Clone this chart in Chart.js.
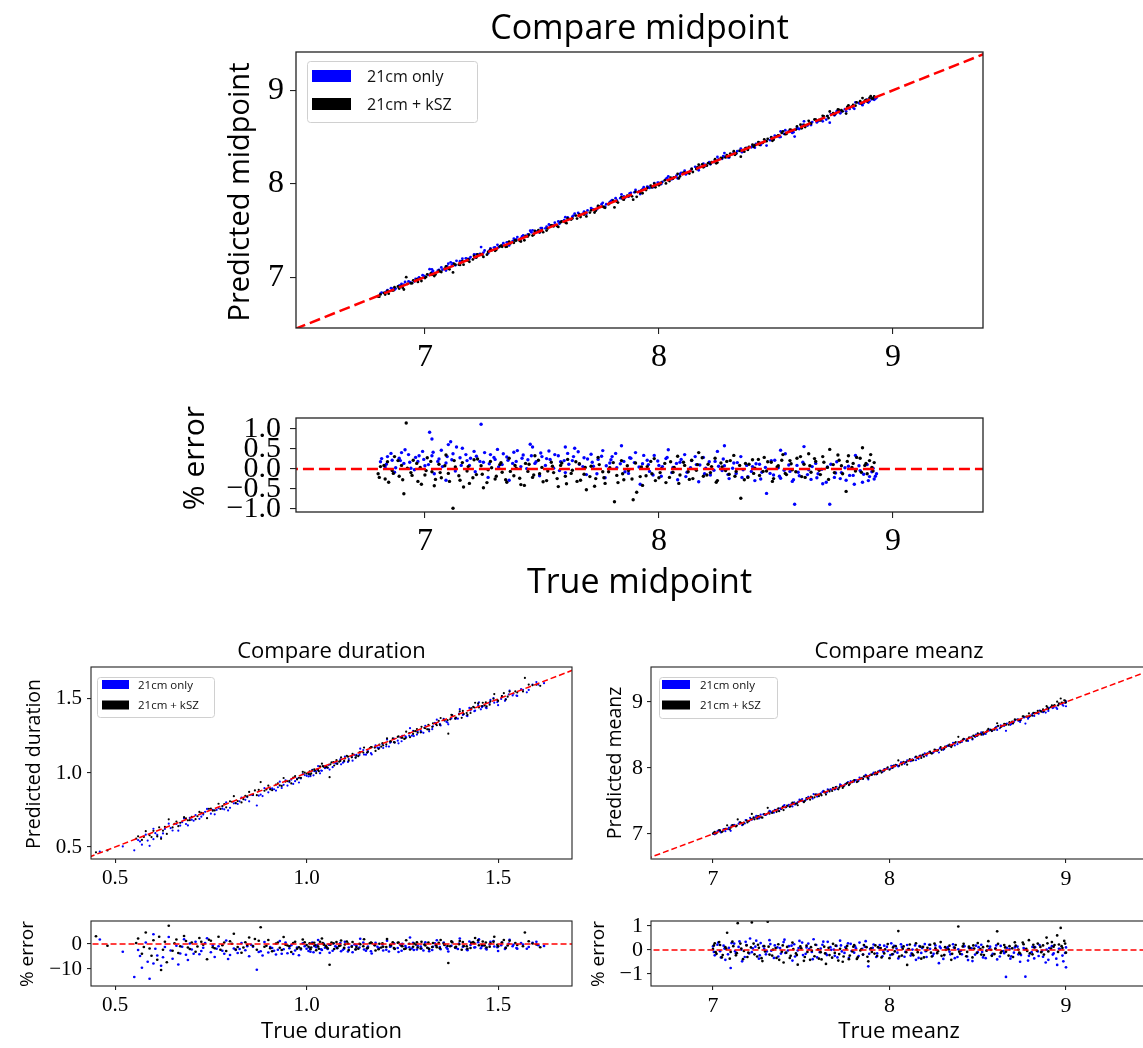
<!DOCTYPE html>
<html>
<head>
<meta charset="utf-8">
<script src="https://cdn.jsdelivr.net/npm/chart.js@4/dist/chart.umd.min.js"></script>
<style>
html, body { margin: 0; padding: 0; background: #fff; overflow: hidden; width: 1143px; height: 1048px; }
canvas { position: absolute; left: 0; top: 0; }
</style>
</head>
<body>
<script>
// Each sample is [true value, % error]; predicted = true * (1 + error / 100).
const midpoint21cm = [[6.81,0.18],[6.83,0.05],[6.84,0.31],[6.86,0.22],[6.87,-0.08],[6.89,0.27],[6.90,0.41],[6.91,0.14],[6.93,0.36],[6.94,0.02],[6.96,0.29],[6.97,0.19],[6.99,0.44],[7.00,0.08],[7.02,0.92],[7.03,0.33],[7.04,-0.12],[7.06,0.25],[7.07,0.47],[7.09,0.15],[7.10,0.61],[7.12,0.38],[7.13,-0.05],[7.15,0.28],[7.16,0.52],[7.18,0.21],[7.19,0.09],[7.21,0.44],[7.22,0.32],[7.24,1.12],[7.25,0.17],[7.27,-0.21],[7.28,0.36],[7.30,0.24],[7.31,0.49],[7.33,0.11],[7.35,0.30],[7.36,-0.28],[7.38,0.42],[7.39,0.19],[7.41,0.06],[7.42,0.35],[7.44,0.23],[7.46,0.55],[7.47,0.14],[7.49,-0.17],[7.50,0.31],[7.52,0.26],[7.53,0.45],[7.55,0.02],[7.57,0.33],[7.58,0.18],[7.60,-0.09],[7.61,0.39],[7.63,0.21],[7.64,0.52],[7.66,0.12],[7.68,0.28],[7.69,-0.14],[7.71,0.37],[7.72,0.07],[7.74,0.24],[7.76,0.46],[7.77,-0.22],[7.79,0.15],[7.80,0.31],[7.82,0.03],[7.84,0.58],[7.85,0.19],[7.87,-0.11],[7.88,0.27],[7.90,0.41],[7.92,-0.38],[7.93,0.13],[7.95,0.22],[7.96,-0.06],[7.98,0.34],[8.00,0.09],[8.01,-0.18],[8.03,0.26],[8.04,0.48],[8.06,0.04],[8.08,-0.27],[8.09,0.17],[8.11,0.36],[8.12,-0.08],[8.14,0.21],[8.16,0.11],[8.17,-0.32],[8.19,0.29],[8.20,0.02],[8.22,-0.15],[8.24,0.19],[8.25,0.44],[8.27,-0.04],[8.28,0.08],[8.30,-0.24],[8.32,0.15],[8.33,-0.11],[8.35,0.31],[8.36,-0.02],[8.38,-0.19],[8.40,0.06],[8.41,-0.29],[8.43,0.12],[8.44,-0.08],[8.46,-0.61],[8.48,0.21],[8.49,-0.15],[8.51,0.03],[8.52,-0.23],[8.54,0.38],[8.56,-0.06],[8.57,-0.31],[8.59,0.09],[8.60,-0.17],[8.62,0.56],[8.64,-0.02],[8.65,-0.26],[8.67,0.14],[8.68,-0.12],[8.70,-0.37],[8.72,0.05],[8.73,-0.88],[8.75,-0.21],[8.76,0.18],[8.78,-0.09],[8.80,-0.28],[8.81,0.07],[8.83,-0.16],[8.84,0.34],[8.86,-0.04],[8.87,-0.33],[8.89,0.11],[8.90,-0.19],[8.91,-0.07],[8.92,-0.25],[8.93,-0.12],
[6.815,0.26],[6.835,0.12],[6.855,0.39],[6.875,0.03],[6.895,0.21],[6.915,0.48],[6.935,0.17],[6.955,-0.02],[6.975,0.33],[6.995,0.24],[7.015,0.11],[7.035,0.42],[7.055,0.19],[7.075,0.06],[7.095,0.31],[7.115,0.23],[7.135,0.55],[7.155,0.09],[7.175,0.36],[7.195,0.27],[7.215,-0.07],[7.235,0.19],[7.255,0.41],[7.275,0.13],[7.295,0.29],[7.315,0.05],[7.335,0.38],[7.355,0.22],[7.375,0.14],[7.395,0.46],[7.415,0.27],[7.435,0.01],[7.455,0.33],[7.475,0.18],[7.495,0.40],[7.515,0.09],[7.535,0.24],[7.555,0.36],[7.575,-0.04],[7.595,0.21],[7.615,0.12],[7.635,0.31],[7.655,0.43],[7.675,0.06],[7.695,0.25],[7.715,0.17],[7.735,-0.12],[7.755,0.32],[7.775,0.08],[7.795,0.23],[7.815,0.39],[7.835,0.13],[7.855,-0.07],[7.875,0.28],[7.895,0.16],[7.915,0.05],[7.935,0.34],[7.955,0.11],[7.975,-0.15],[7.995,0.20],[8.015,0.06],[8.035,0.29],[8.055,-0.09],[8.075,0.14],[8.095,0.24],[8.115,-0.19],[8.135,0.03],[8.155,0.31],[8.175,0.10],[8.195,-0.12],[8.215,0.18],[8.235,-0.03],[8.255,0.07],[8.275,0.25],[8.295,-0.14],[8.315,0.02],[8.335,0.16],[8.355,-0.21],[8.375,0.09],[8.395,-0.06],[8.415,0.13],[8.435,-0.25],[8.455,0.04],[8.475,-0.11],[8.495,0.22],[8.515,-0.18],[8.535,-0.03],[8.555,0.10],[8.575,-0.27],[8.595,-0.08],[8.615,0.17],[8.635,-0.14],[8.655,0.06],[8.675,-0.22],[8.695,-0.01],[8.715,-0.33],[8.735,0.12],[8.755,-0.10],[8.775,-0.24],[8.795,0.03],[8.815,-0.16],[8.835,-0.38],[8.855,0.08],[8.875,-0.13],[8.895,-0.29],[8.915,0.02],[8.925,-0.18],[7.03,0.75],[7.11,0.68],[7.45,0.62],[7.60,0.55],[8.28,0.58],[8.52,0.47],[7.09,-0.28],[8.58,-0.88]];

const midpoint21cmKsz = [[6.80,-0.12],[6.81,0.06],[6.83,-0.25],[6.84,0.18],[6.86,-0.04],[6.87,0.31],[6.89,-0.18],[6.90,0.09],[6.91,-0.62],[6.92,1.15],[6.94,-0.09],[6.95,0.22],[6.97,-0.31],[6.98,0.04],[7.00,-0.15],[7.01,0.28],[7.03,-0.07],[7.04,-0.42],[7.06,0.12],[7.07,-0.22],[7.09,0.35],[7.10,-0.11],[7.12,-0.98],[7.13,0.05],[7.15,-0.28],[7.16,0.16],[7.18,-0.05],[7.19,-0.36],[7.21,0.23],[7.22,-0.14],[7.24,0.08],[7.25,-0.47],[7.27,-0.02],[7.28,0.19],[7.30,-0.25],[7.32,0.11],[7.33,-0.08],[7.35,-0.33],[7.36,0.27],[7.38,-0.17],[7.39,0.02],[7.41,-0.39],[7.43,0.14],[7.44,-0.06],[7.46,-0.21],[7.47,0.33],[7.49,-0.12],[7.50,0.04],[7.52,-0.29],[7.54,0.17],[7.55,-0.09],[7.57,-0.44],[7.58,0.09],[7.60,-0.18],[7.61,0.24],[7.63,-0.03],[7.65,-0.31],[7.66,0.13],[7.68,-0.13],[7.69,-0.52],[7.71,0.07],[7.73,-0.24],[7.74,0.29],[7.76,-0.07],[7.77,-0.36],[7.79,0.03],[7.81,-0.82],[7.82,-0.16],[7.84,0.21],[7.85,-0.27],[7.87,-0.04],[7.89,-0.77],[7.90,0.15],[7.92,-0.19],[7.93,-0.41],[7.95,0.06],[7.97,-0.12],[7.98,0.26],[8.00,-0.22],[8.01,0.01],[8.03,-0.34],[8.05,0.18],[8.06,-0.08],[8.08,0.32],[8.09,-0.15],[8.11,0.09],[8.13,-0.26],[8.14,0.22],[8.16,-0.03],[8.17,0.41],[8.19,-0.18],[8.21,0.12],[8.22,-0.09],[8.24,0.27],[8.25,-0.29],[8.27,0.05],[8.29,0.19],[8.30,-0.13],[8.32,0.34],[8.33,-0.06],[8.35,-0.73],[8.37,0.14],[8.38,-0.21],[8.40,0.23],[8.41,0.02],[8.43,-0.16],[8.45,0.29],[8.46,-0.05],[8.48,0.17],[8.49,-0.24],[8.51,0.08],[8.53,0.36],[8.54,-0.11],[8.56,0.21],[8.57,-0.02],[8.59,0.27],[8.61,-0.19],[8.62,0.12],[8.64,0.38],[8.65,-0.08],[8.67,0.19],[8.69,-0.14],[8.70,0.31],[8.72,0.04],[8.73,0.49],[8.75,-0.09],[8.77,0.22],[8.78,0.08],[8.80,-0.56],[8.81,0.33],[8.83,0.14],[8.84,-0.05],[8.86,0.27],[8.87,0.53],[8.88,0.09],[8.89,-0.12],[8.90,0.21],[8.91,0.04],[8.92,0.16],
[6.805,-0.21],[6.825,0.09],[6.845,-0.33],[6.865,-0.11],[6.885,0.21],[6.905,-0.27],[6.925,0.02],[6.945,-0.16],[6.965,0.14],[6.985,-0.38],[7.005,-0.04],[7.025,0.19],[7.045,-0.26],[7.065,-0.09],[7.085,0.08],[7.105,-0.31],[7.125,0.21],[7.145,-0.17],[7.165,-0.45],[7.185,0.06],[7.205,-0.22],[7.225,0.25],[7.245,-0.13],[7.265,-0.34],[7.285,0.03],[7.305,-0.18],[7.325,0.16],[7.345,-0.27],[7.365,-0.06],[7.385,0.09],[7.405,-0.23],[7.425,-0.41],[7.445,0.12],[7.465,-0.15],[7.485,0.22],[7.505,-0.32],[7.525,-0.05],[7.545,0.07],[7.565,-0.24],[7.585,0.15],[7.605,-0.37],[7.625,-0.11],[7.645,0.18],[7.665,-0.28],[7.685,0.04],[7.705,-0.19],[7.725,-0.43],[7.745,0.11],[7.765,-0.22],[7.785,-0.07],[7.805,0.16],[7.825,-0.34],[7.845,-0.12],[7.865,0.08],[7.885,-0.25],[7.905,-0.58],[7.925,0.05],[7.945,-0.17],[7.965,0.19],[7.985,-0.29],[8.005,-0.09],[8.025,0.14],[8.045,-0.21],[8.065,0.04],[8.085,-0.36],[8.105,0.17],[8.125,-0.07],[8.145,-0.24],[8.165,0.11],[8.185,0.28],[8.205,-0.15],[8.225,0.06],[8.245,-0.33],[8.265,0.15],[8.285,-0.04],[8.305,0.21],[8.325,-0.18],[8.345,0.09],[8.365,-0.27],[8.385,0.12],[8.405,-0.11],[8.425,0.24],[8.445,-0.06],[8.465,0.18],[8.485,-0.31],[8.505,0.05],[8.525,0.22],[8.545,-0.14],[8.565,0.13],[8.585,-0.07],[8.605,0.31],[8.625,-0.21],[8.645,0.08],[8.665,0.26],[8.685,-0.03],[8.705,0.17],[8.725,-0.26],[8.745,0.11],[8.765,0.35],[8.785,-0.12],[8.805,0.19],[8.825,0.04],[8.845,0.29],[8.865,-0.08],[8.885,0.14],[8.905,0.36],[8.915,-0.05]];

const duration21cm = [[0.46,1.8],[0.52,-3.1],[0.55,-13.2],[0.56,-2.4],[0.57,-9.5],[0.58,0.6],[0.59,-13.9],[0.60,-7.8],[0.60,3.9],[0.61,-4.6],[0.62,-8.7],[0.63,-1.2],[0.64,2.8],[0.65,-5.9],[0.66,-0.7],[0.67,-3.8],[0.68,1.9],[0.69,-6.4],[0.70,-2.2],[0.705,-3.9],[0.71,0.9],[0.72,-4.1],[0.73,-1.5],[0.735,0.4],[0.74,2.3],[0.75,-3.3],[0.76,-5.2],[0.765,-1.9],[0.77,-0.9],[0.78,-2.7],[0.79,1.4],[0.795,-6.0],[0.80,-4.4],[0.81,-1.8],[0.82,-3.6],[0.825,-2.0],[0.83,0.4],[0.84,-2.5],[0.85,-4.9],[0.855,-0.3],[0.86,-1.1],[0.87,-10.3],[0.88,-2.9],[0.885,-4.6],[0.89,0.8],[0.90,-3.4],[0.91,-1.6],[0.915,-2.7],[0.92,-4.2],[0.93,1.2],[0.94,-2.1],[0.945,0.6],[0.95,-3.7],[0.96,-0.5],[0.97,-2.6],[0.975,-1.4],[0.98,-4.5],[0.99,0.3],[1.00,-1.9],[1.005,-2.8],[1.01,-3.1],[1.015,0.6],[1.02,-0.8],[1.025,-1.3],[1.03,1.6],[1.035,-3.6],[1.04,-2.4],[1.045,0.1],[1.05,-1.2],[1.055,-2.0],[1.06,-3.5],[1.07,0.2],[1.075,-0.9],[1.08,-1.7],[1.09,-2.9],[1.095,-2.3],[1.10,0.9],[1.11,-1.4],[1.12,-3.3],[1.125,-0.2],[1.13,-0.6],[1.14,2.1],[1.15,-2.2],[1.155,-2.7],[1.16,-1.0],[1.17,-3.8],[1.18,0.5],[1.185,-1.1],[1.19,-1.6],[1.20,-2.6],[1.21,1.3],[1.215,-3.0],[1.22,-0.9],[1.23,-2.0],[1.24,-3.2],[1.245,-0.4],[1.25,0.1],[1.26,-1.5],[1.27,2.6],[1.275,-1.8],[1.28,-2.4],[1.29,-0.7],[1.30,-1.8],[1.305,-2.6],[1.31,0.7],[1.32,-2.9],[1.33,-1.1],[1.335,0.3],[1.34,1.5],[1.35,-2.1],[1.36,-0.4],[1.365,-1.4],[1.37,-3.0],[1.38,0.8],[1.39,-1.6],[1.395,-2.0],[1.40,2.2],[1.41,-0.9],[1.42,-2.5],[1.425,1.0],[1.43,0.4],[1.44,-1.3],[1.45,1.9],[1.455,-1.7],[1.46,-0.6],[1.47,-2.2],[1.48,0.9],[1.49,-1.0],[1.50,-2.8],[1.51,0.6],[1.52,-1.4],[1.53,1.7],[1.54,-0.3],[1.55,-1.9],[1.56,0.4],[1.58,-1.2],[1.60,0.9],[1.62,-0.8],
[0.565,-4.8],[0.585,-7.1],[0.605,-1.9],[0.625,-5.3],[0.645,-2.6],[0.665,-8.2],[0.675,-1.1],[0.685,-4.3],[0.695,0.2],[0.725,-2.8],[0.755,-0.6],[0.785,-3.9],[0.815,-2.4],[0.845,-0.9],[0.875,-3.2],[0.905,-1.2],[0.925,-2.3],[0.935,-3.9],[0.955,-1.7],[0.965,-4.0],[0.985,-2.2],[0.995,-0.9],[1.008,-1.6],[1.018,-3.3],[1.028,-0.4],[1.038,-2.1],[1.048,-1.5],[1.058,-0.3],[1.068,-2.7],[1.078,-1.2],[1.088,0.4],[1.098,-1.9],[1.108,-3.0],[1.118,-0.8],[1.128,-2.1],[1.138,-1.4],[1.148,0.6],[1.158,-1.8],[1.168,-2.9],[1.178,-0.5],[1.188,-1.9],[1.198,-0.2],[1.208,-2.3],[1.218,-1.1],[1.228,0.3],[1.238,-1.6],[1.248,-2.7],[1.258,-0.8],[1.268,-1.3],[1.278,0.5],[1.288,-2.2],[1.298,-1.0],[1.308,-0.3],[1.318,-1.7],[1.328,-2.4],[1.338,-0.6],[1.348,-1.2],[1.358,0.6],[1.368,-2.0],[1.378,-0.7],[1.388,-1.5],[1.398,0.2],[1.408,-1.1],[1.418,-2.2],[1.428,-0.4],[1.438,-1.4],[1.448,0.7],[1.458,-0.9],[1.468,-1.8],[1.478,-0.2],[1.488,1.2],[1.498,-1.3],[1.508,-0.5],[1.518,-2.0],[1.528,0.2],[1.538,-0.9],[1.548,-1.6],[1.565,-0.2],[1.575,-1.9],[1.59,0.5],[1.605,-0.5]];

const duration21cmKsz = [[0.45,3.1],[0.48,-0.7],[0.56,2.2],[0.57,-3.9],[0.58,4.6],[0.59,-1.8],[0.60,1.5],[0.61,-6.3],[0.62,-10.4],[0.63,0.9],[0.64,7.3],[0.65,-2.7],[0.66,1.8],[0.67,-0.9],[0.68,3.2],[0.69,-1.4],[0.70,0.6],[0.71,-3.1],[0.715,-1.0],[0.72,2.4],[0.73,-0.3],[0.74,-6.1],[0.745,1.7],[0.75,1.3],[0.76,-1.7],[0.77,2.9],[0.775,-2.3],[0.78,-0.5],[0.79,-2.8],[0.80,1.1],[0.805,0.1],[0.81,4.1],[0.82,-1.2],[0.83,-3.5],[0.835,-1.4],[0.84,0.7],[0.85,2.6],[0.86,-0.8],[0.865,2.0],[0.87,-2.3],[0.88,6.7],[0.89,-1.1],[0.895,-0.7],[0.90,1.6],[0.91,-2.9],[0.92,0.2],[0.93,-1.5],[0.94,2.8],[0.95,-0.6],[0.955,-0.9],[0.96,-3.2],[0.965,0.4],[0.97,0.9],[0.98,-1.3],[0.985,-1.8],[0.99,1.8],[0.995,0.7],[1.00,-0.4],[1.005,-1.1],[1.01,-2.1],[1.015,0.2],[1.02,0.5],[1.025,-2.5],[1.03,-1.0],[1.035,0.9],[1.04,2.2],[1.045,-0.3],[1.05,-0.7],[1.055,-1.7],[1.06,-8.3],[1.065,0.6],[1.07,0.3],[1.08,-1.6],[1.085,-0.8],[1.09,1.4],[1.10,-0.2],[1.105,1.0],[1.11,-2.4],[1.12,0.8],[1.13,-1.2],[1.135,-1.9],[1.14,-0.1],[1.15,1.9],[1.16,-1.5],[1.165,0.3],[1.17,0.4],[1.18,-2.6],[1.19,0.1],[1.195,-1.4],[1.20,-1.1],[1.21,2.0],[1.22,-0.5],[1.225,0.7],[1.23,-1.9],[1.24,0.6],[1.25,-0.9],[1.255,-2.0],[1.26,1.5],[1.27,-2.2],[1.28,0.2],[1.285,-0.2],[1.29,-1.4],[1.30,0.9],[1.31,-0.6],[1.315,-1.5],[1.32,-2.0],[1.33,0.4],[1.34,-1.3],[1.345,0.5],[1.35,1.6],[1.36,-0.3],[1.37,-7.6],[1.375,-0.9],[1.38,0.7],[1.39,-1.1],[1.40,1.2],[1.405,-2.3],[1.41,-0.8],[1.42,-1.9],[1.43,0.5],[1.435,0.8],[1.44,2.4],[1.45,-0.5],[1.46,1.0],[1.465,-0.6],[1.47,-1.4],[1.48,0.3],[1.49,2.9],[1.50,-0.9],[1.51,0.6],[1.52,-1.6],[1.53,1.3],[1.55,-0.4],[1.57,4.6],[1.59,0.2],[1.61,-1.3],
[0.555,0.4],[0.575,-1.2],[0.595,-4.7],[0.615,2.9],[0.625,-2.3],[0.635,-7.3],[0.655,0.3],[0.665,-3.6],[0.685,1.2],[0.695,-2.0],[0.725,0.9],[0.755,-1.3],[0.785,0.6],[0.815,-2.2],[0.845,-0.4],[0.875,1.3],[0.905,-1.7],[0.925,0.6],[0.935,-2.4],[0.945,-0.3],[0.975,-1.9],[1.008,0.3],[1.012,-1.4],[1.022,-0.5],[1.032,-1.9],[1.042,0.4],[1.052,-1.2],[1.062,-0.3],[1.072,-2.0],[1.078,0.8],[1.088,-0.6],[1.098,-1.5],[1.108,0.2],[1.118,-1.1],[1.128,-2.2],[1.138,0.1],[1.148,-0.9],[1.158,-1.7],[1.168,0.6],[1.178,-0.5],[1.188,-2.1],[1.198,0.3],[1.208,-1.2],[1.218,-0.4],[1.228,-1.6],[1.238,0.5],[1.248,-0.8],[1.258,-1.9],[1.268,0.1],[1.278,-1.1],[1.288,0.7],[1.298,-1.8],[1.308,-0.2],[1.318,0.6],[1.328,-1.2],[1.338,-0.5],[1.348,-1.7],[1.358,0.2],[1.368,-0.8],[1.378,1.1],[1.388,-1.4],[1.398,-0.1],[1.408,0.8],[1.418,-0.9],[1.428,-1.6],[1.438,0.3],[1.448,1.5],[1.458,-0.4],[1.468,0.6],[1.478,-1.1],[1.488,0.9],[1.498,-0.3],[1.515,1.6],[1.525,-0.6],[1.545,0.4],[1.565,-0.9],[1.58,1.1],[1.60,-0.2]];

const meanz21cm = [[7.00,0.15],[7.01,-0.22],[7.03,0.31],[7.04,-0.05],[7.06,0.18],[7.07,-0.41],[7.09,0.09],[7.10,-0.75],[7.12,0.27],[7.13,-0.13],[7.15,0.36],[7.16,0.02],[7.18,-0.29],[7.19,0.21],[7.21,0.48],[7.22,-0.09],[7.24,0.14],[7.26,-0.36],[7.27,0.29],[7.29,0.05],[7.30,-0.18],[7.32,0.41],[7.33,-0.03],[7.35,0.19],[7.37,-0.27],[7.38,0.08],[7.40,0.33],[7.41,-0.12],[7.43,0.16],[7.45,-0.44],[7.46,0.24],[7.48,-0.02],[7.49,0.38],[7.51,-0.21],[7.53,0.11],[7.54,0.27],[7.56,-0.08],[7.57,0.45],[7.59,-0.31],[7.61,0.06],[7.62,0.22],[7.64,-0.15],[7.65,0.34],[7.67,0.01],[7.69,-0.24],[7.70,0.17],[7.72,0.39],[7.73,-0.06],[7.75,0.12],[7.77,-0.33],[7.78,0.26],[7.80,-0.11],[7.81,0.07],[7.83,0.31],[7.85,-0.19],[7.86,0.14],[7.88,-0.68],[7.89,0.04],[7.91,0.23],[7.93,-0.14],[7.94,0.09],[7.96,-0.26],[7.97,0.18],[7.99,-0.04],[8.01,0.28],[8.02,-0.17],[8.04,0.06],[8.05,-0.35],[8.07,0.13],[8.09,-0.08],[8.10,0.21],[8.12,-0.23],[8.13,0.02],[8.15,-0.41],[8.17,0.16],[8.18,-0.12],[8.20,0.25],[8.21,-0.29],[8.23,0.05],[8.25,-0.16],[8.26,0.19],[8.28,-0.55],[8.29,0.08],[8.31,-0.21],[8.33,0.12],[8.34,-0.07],[8.36,0.24],[8.37,-0.34],[8.39,0.03],[8.41,-0.18],[8.42,0.15],[8.44,-0.27],[8.45,0.09],[8.47,-0.46],[8.49,0.18],[8.50,-0.09],[8.52,0.22],[8.53,-0.31],[8.55,-0.02],[8.57,0.14],[8.58,-0.22],[8.60,0.07],[8.61,-0.39],[8.63,0.17],[8.65,-0.13],[8.66,-1.12],[8.68,0.04],[8.69,-0.26],[8.71,0.11],[8.73,-0.18],[8.74,-0.49],[8.76,0.08],[8.77,-1.11],[8.79,-0.24],[8.81,0.13],[8.82,-0.35],[8.84,-0.06],[8.85,0.21],[8.87,-0.28],[8.89,0.02],[8.90,-0.41],[8.92,0.16],[8.93,-0.14],[8.95,-0.62],[8.96,0.05],[8.98,-0.23],[9.00,-0.72],[9.00,0.11],
[7.005,-0.08],[7.025,0.22],[7.045,-0.31],[7.065,0.06],[7.085,-0.18],[7.105,0.29],[7.125,-0.05],[7.145,0.13],[7.165,-0.47],[7.185,0.34],[7.205,-0.14],[7.225,0.07],[7.245,0.39],[7.265,-0.22],[7.285,0.16],[7.305,-0.06],[7.325,0.25],[7.345,-0.33],[7.365,0.11],[7.385,-0.15],[7.405,0.43],[7.425,-0.02],[7.445,0.18],[7.465,-0.27],[7.485,0.08],[7.505,0.31],[7.525,-0.16],[7.545,0.04],[7.565,-0.38],[7.585,0.21],[7.605,-0.09],[7.625,0.35],[7.645,-0.21],[7.665,0.12],[7.685,0.02],[7.705,-0.31],[7.725,0.19],[7.745,-0.12],[7.765,0.28],[7.785,-0.04],[7.805,0.15],[7.825,-0.25],[7.845,0.05],[7.865,0.37],[7.885,-0.16],[7.905,0.09],[7.925,-0.29],[7.945,0.21],[7.965,-0.07],[7.985,0.13],[8.005,-0.21],[8.025,0.17],[8.045,-0.11],[8.065,0.24],[8.085,-0.28],[8.105,0.04],[8.125,-0.14],[8.145,0.19],[8.165,-0.33],[8.185,0.08],[8.205,-0.05],[8.225,0.22],[8.245,-0.24],[8.265,0.01],[8.285,0.14],[8.305,-0.37],[8.325,0.06],[8.345,-0.18],[8.365,0.11],[8.385,-0.29],[8.405,-0.03],[8.425,0.16],[8.445,-0.42],[8.465,0.07],[8.485,-0.19],[8.505,0.12],[8.525,-0.08],[8.545,-0.34],[8.565,0.05],[8.585,-0.16],[8.605,0.19],[8.625,-0.27],[8.645,-0.04],[8.665,0.09],[8.685,-0.36],[8.705,-0.11],[8.725,0.14],[8.745,-0.21],[8.765,0.03],[8.785,-0.44],[8.805,-0.09],[8.825,0.12],[8.845,-0.25],[8.865,-0.03],[8.885,-0.52],[8.905,0.08],[8.925,-0.19],[8.945,-0.36],[8.965,0.04],[8.985,-0.47],[8.995,-0.12]];

const meanz21cmKsz = [[7.00,0.04],[7.01,0.28],[7.02,-0.16],[7.04,0.21],[7.05,-0.31],[7.07,0.12],[7.08,0.72],[7.10,-0.08],[7.11,0.35],[7.13,-0.22],[7.14,1.12],[7.16,0.06],[7.17,-0.38],[7.19,0.19],[7.20,-0.11],[7.22,1.15],[7.23,0.27],[7.25,-0.27],[7.26,0.09],[7.28,-0.46],[7.29,0.16],[7.31,1.18],[7.32,-0.19],[7.34,0.02],[7.36,-0.33],[7.37,0.24],[7.39,-0.07],[7.40,-0.52],[7.42,0.13],[7.44,-0.24],[7.45,0.31],[7.47,-0.14],[7.48,-0.61],[7.50,0.07],[7.52,-0.29],[7.53,0.18],[7.55,-0.41],[7.56,-0.03],[7.58,0.22],[7.60,-0.36],[7.61,-0.09],[7.63,0.14],[7.64,-0.58],[7.66,-0.21],[7.68,0.26],[7.69,-0.12],[7.71,-0.44],[7.72,0.05],[7.74,-0.27],[7.76,0.17],[7.77,-0.38],[7.79,-0.06],[7.80,0.21],[7.82,-0.31],[7.84,0.03],[7.85,-0.19],[7.87,0.12],[7.88,-0.47],[7.90,-0.08],[7.92,0.19],[7.93,-0.25],[7.95,0.08],[7.97,-0.14],[7.99,0.25],[8.00,-0.34],[8.02,0.11],[8.03,-0.06],[8.05,0.79],[8.07,-0.23],[8.08,0.15],[8.10,-0.62],[8.11,0.04],[8.13,-0.17],[8.15,0.28],[8.16,-0.09],[8.18,-0.36],[8.19,0.13],[8.21,-0.02],[8.23,0.22],[8.24,-0.27],[8.26,0.07],[8.27,-0.13],[8.29,0.33],[8.31,-0.21],[8.32,0.01],[8.34,0.18],[8.35,-0.41],[8.37,0.09],[8.39,0.98],[8.40,-0.16],[8.42,0.26],[8.44,-0.08],[8.45,0.14],[8.47,-0.31],[8.48,0.06],[8.50,0.29],[8.52,-0.19],[8.53,0.12],[8.55,-0.03],[8.56,0.37],[8.58,-0.24],[8.60,0.05],[8.61,0.78],[8.63,-0.12],[8.65,0.21],[8.66,-0.07],[8.68,0.16],[8.70,-0.29],[8.71,0.32],[8.73,0.02],[8.74,-0.15],[8.76,0.24],[8.78,-0.04],[8.79,0.41],[8.81,-0.18],[8.82,0.11],[8.84,0.27],[8.86,-0.09],[8.87,0.19],[8.89,0.52],[8.90,-0.06],[8.92,0.33],[8.93,0.14],[8.95,0.61],[8.96,0.23],[8.97,0.92],[8.98,0.08],[8.99,0.38],[9.00,-0.11],
[7.005,0.19],[7.015,-0.09],[7.035,0.33],[7.055,-0.21],[7.075,0.05],[7.095,-0.36],[7.115,0.16],[7.135,-0.13],[7.155,0.27],[7.175,-0.04],[7.195,-0.29],[7.215,0.11],[7.235,-0.18],[7.255,0.22],[7.275,-0.34],[7.295,-0.06],[7.315,0.14],[7.335,-0.23],[7.355,0.08],[7.375,-0.41],[7.395,0.19],[7.415,-0.11],[7.435,-0.33],[7.455,0.04],[7.475,-0.21],[7.495,0.15],[7.515,-0.45],[7.535,-0.08],[7.555,0.12],[7.575,-0.26],[7.595,0.03],[7.615,-0.39],[7.635,-0.14],[7.655,0.09],[7.675,-0.32],[7.695,0.18],[7.715,-0.17],[7.735,-0.49],[7.755,0.06],[7.775,-0.23],[7.795,0.14],[7.815,-0.37],[7.835,-0.02],[7.855,0.21],[7.875,-0.28],[7.895,0.07],[7.915,-0.15],[7.935,0.12],[7.955,-0.31],[7.975,0.03],[8.015,-0.18],[8.035,0.16],[8.055,-0.27],[8.075,0.05],[8.095,-0.09],[8.115,0.23],[8.135,-0.22],[8.155,0.02],[8.175,0.14],[8.195,-0.31],[8.215,0.09],[8.235,-0.11],[8.255,0.27],[8.275,-0.05],[8.295,-0.24],[8.315,0.12],[8.335,0.03],[8.355,-0.16],[8.375,0.21],[8.395,-0.07],[8.415,0.15],[8.435,-0.26],[8.455,0.08],[8.475,0.19],[8.495,-0.12],[8.515,0.04],[8.535,-0.21],[8.555,0.16],[8.575,0.01],[8.595,-0.17],[8.615,0.26],[8.635,-0.06],[8.655,0.11],[8.675,-0.23],[8.695,0.07],[8.715,0.18],[8.735,-0.11],[8.755,0.31],[8.775,0.05],[8.795,-0.14],[8.815,0.22],[8.835,-0.03],[8.855,0.13],[8.875,-0.19],[8.895,0.28],[8.915,0.06],[8.935,0.21],[8.955,-0.08],[8.975,0.16],[8.995,0.27]];

// Tick values for each axis
const midpointTicks = [7, 8, 9];
const midpointErrTicks = [-1, -0.5, 0, 0.5, 1];
const durationTicks = [0.5, 1.0, 1.5];
const durationErrTicks = [-10, 0];
const meanzTicks = [7, 8, 9];
const meanzErrTicks = [-1, 0, 1];

const seriesLabels = ['21cm only', '21cm + kSZ'];
const seriesColors = ['#0000ff', '#000000'];

const PAGE_W = 1160, PAGE_H = 1048;
const SANS = '"Open Sans", "DejaVu Sans", sans-serif';
const SERIF = '"Liberation Serif", "DejaVu Serif", serif';

const fmtMinus = s => s.replace('-', '\u2212');
const fmtInt = v => fmtMinus(String(Math.round(v)));
const fmt1 = v => fmtMinus(v.toFixed(1));

function toPredicted(rows) { return rows.map(([t, e]) => ({ x: t, y: t * (1 + e / 100) })); }
function toError(rows) { return rows.map(([t, e]) => ({ x: t, y: e })); }

// Frame, labels and legend drawn on top of every panel
const panelDecor = {
  id: 'panelDecor',
  afterDraw(chart, args, opts) {
    const ctx = chart.ctx, a = chart.chartArea;
    ctx.save();
    ctx.strokeStyle = '#222';
    ctx.lineWidth = opts.frameWidth || 1.2;
    ctx.strokeRect(a.left, a.top, a.right - a.left, a.bottom - a.top);
    (opts.texts || []).forEach(t => {
      ctx.save();
      ctx.font = `${t.size}px ${SANS}`;
      ctx.fillStyle = '#000';
      ctx.textAlign = 'center';
      ctx.textBaseline = 'alphabetic';
      ctx.translate(t.x, t.y);
      if (t.rot) ctx.rotate(-Math.PI / 2);
      ctx.fillText(t.text, 0, 0);
      ctx.restore();
    });
    const lg = opts.legend;
    if (lg) {
      const x = a.left + lg.dx, y = a.top + lg.dy;
      ctx.beginPath();
      ctx.roundRect(x + 0.5, y + 0.5, lg.w, lg.h, 3);
      ctx.fillStyle = 'rgba(255,255,255,0.85)';
      ctx.fill();
      ctx.strokeStyle = '#d0d0d0';
      ctx.lineWidth = 1;
      ctx.stroke();
      const items = chart.data.datasets.filter(d => d.inLegend);
      items.forEach((d, i) => {
        const cy = a.top + lg.rows[i];
        ctx.fillStyle = d.backgroundColor;
        ctx.fillRect(a.left + lg.px, cy - lg.ph / 2, lg.pw, lg.ph);
        ctx.fillStyle = '#111';
        ctx.font = `${lg.size}px ${SANS}`;
        ctx.textAlign = 'left';
        ctx.textBaseline = 'middle';
        ctx.fillText(d.label, a.left + lg.tx, cy + 1);
      });
    }
    ctx.restore();
  }
};

function makePanel(p) {
  const cv = document.createElement('canvas');
  cv.width = PAGE_W; cv.height = PAGE_H;
  cv.style.width = PAGE_W + 'px'; cv.style.height = PAGE_H + 'px';
  document.body.appendChild(cv);
  const b = p.box;
  const yW = Math.min(80, b.l), xH = 60;
  const datasets = [];
  const lineData = p.kind === 'main'
    ? [{ x: p.lineSpan[0], y: p.lineSpan[0] }, { x: p.lineSpan[1], y: p.lineSpan[1] }]
    : [{ x: p.lineSpan[0], y: 0 }, { x: p.lineSpan[1], y: 0 }];
  datasets.push({
    type: 'line', data: lineData, borderColor: '#ff0000', borderWidth: p.lineWidth,
    borderDash: p.dash, pointRadius: 0, fill: false, order: 0, inLegend: false
  });
  p.series.forEach((rows, i) => {
    datasets.push({
      label: seriesLabels[i],
      data: p.kind === 'main' ? toPredicted(rows) : toError(rows),
      backgroundColor: seriesColors[i], borderColor: seriesColors[i],
      pointRadius: p.radius, pointBorderWidth: 0, order: 2 - i, inLegend: true
    });
  });
  const axis = (min, max, ticks, fmt, font, pad, isX) => ({
    type: 'linear', min, max,
    afterBuildTicks: s => { s.ticks = ticks.map(v => ({ value: v })); },
    afterFit: s => {
      if (isX) s.height = xH; else s.width = yW;
      s.paddingLeft = s.paddingRight = s.paddingTop = s.paddingBottom = 0;
    },
    ticks: { callback: v => fmt(v), font: { family: SERIF, size: font }, color: '#000',
             padding: pad, autoSkip: false, maxRotation: 0, minRotation: 0 },
    grid: { display: true, drawOnChartArea: false, drawTicks: true, tickLength: p.tickLen,
            color: '#222', lineWidth: 1.1 },
    border: { display: false }
  });
  new Chart(cv, {
    type: 'scatter',
    data: { datasets },
    options: {
      responsive: false, animation: false, events: [],
      layout: { padding: { left: b.l - yW, top: b.t, right: PAGE_W - b.r, bottom: PAGE_H - b.b - xH } },
      plugins: { legend: { display: false }, tooltip: { enabled: false }, title: { display: false },
                 panelDecor: { texts: p.texts, legend: p.legend, frameWidth: p.frameWidth } },
      scales: {
        x: axis(p.x[0], p.x[1], p.xTicks, p.xFmt, p.xFont, p.xPad, true),
        y: axis(p.y[0], p.y[1], p.yTicks, p.yFmt, p.yFont, p.yPad, false)
      }
    },
    plugins: [panelDecor]
  });
}

const bigLegend = { dx: 11, dy: 9, w: 170, h: 61, px: 16, pw: 39, ph: 12, tx: 71, rows: [24, 52], size: 16 };
const smallLegend = { dx: 6, dy: 10, w: 117, h: 40, px: 11, pw: 27, ph: 9, tx: 47, rows: [17.5, 38], size: 11.5 };

// Midpoint: comparison and residual
makePanel({
  kind: 'main', box: { l: 296, t: 52, r: 983, b: 328 },
  x: [6.449, 9.385], y: [6.455, 9.41], xTicks: midpointTicks, yTicks: midpointTicks,
  xFmt: fmtInt, yFmt: fmtInt, xFont: 32, yFont: 32, xPad: 4, yPad: 6, tickLen: 6,
  series: [midpoint21cm, midpoint21cmKsz], radius: 1.4,
  lineSpan: [6.0, 10.0], dash: [11, 5], lineWidth: 2.5, frameWidth: 1.3,
  legend: bigLegend,
  texts: [
    { text: 'Compare midpoint', x: 639.5, y: 39, size: 34 },
    { text: 'Predicted midpoint', x: 249, y: 192, size: 29, rot: true }
  ]
});
makePanel({
  kind: 'err', box: { l: 296, t: 418, r: 983, b: 512 },
  x: [6.449, 9.385], y: [-1.075, 1.275], xTicks: midpointTicks, yTicks: midpointErrTicks,
  xFmt: fmtInt, yFmt: fmt1, xFont: 32, yFont: 30, xPad: 4, yPad: 9, tickLen: 6,
  series: [midpoint21cm, midpoint21cmKsz], radius: 1.7,
  lineSpan: [6.0, 10.0], dash: [11, 5], lineWidth: 2.5, frameWidth: 1.3,
  texts: [
    { text: '% error', x: 204, y: 458, size: 30, rot: true },
    { text: 'True midpoint', x: 639.5, y: 593, size: 34 }
  ]
});

// Duration
makePanel({
  kind: 'main', box: { l: 91, t: 667, r: 572, b: 859 },
  x: [0.437, 1.693], y: [0.419, 1.716], xTicks: durationTicks, yTicks: durationTicks,
  xFmt: fmt1, yFmt: fmt1, xFont: 21, yFont: 21, xPad: 3, yPad: 5, tickLen: 4,
  series: [duration21cm, duration21cmKsz], radius: 1.1,
  lineSpan: [0.3, 1.9], dash: [6, 3], lineWidth: 1.5, frameWidth: 1.1,
  legend: smallLegend,
  texts: [
    { text: 'Compare duration', x: 331.5, y: 658, size: 22 },
    { text: 'Predicted duration', x: 40, y: 764, size: 19.5, rot: true }
  ]
});
makePanel({
  kind: 'err', box: { l: 91, t: 921, r: 572, b: 986 },
  x: [0.437, 1.693], y: [-16.8, 9.2], xTicks: durationTicks, yTicks: durationErrTicks,
  xFmt: fmt1, yFmt: fmtInt, xFont: 21, yFont: 21, xPad: 3, yPad: 5, tickLen: 4,
  series: [duration21cm, duration21cmKsz], radius: 1.35,
  lineSpan: [0.3, 1.9], dash: [6, 3], lineWidth: 1.5, frameWidth: 1.1,
  texts: [
    { text: '% error', x: 33, y: 954, size: 19, rot: true },
    { text: 'True duration', x: 331.5, y: 1038, size: 22 }
  ]
});

// Mean redshift
makePanel({
  kind: 'main', box: { l: 651, t: 667, r: 1147, b: 859 },
  x: [6.6487, 9.459], y: [6.62, 9.53], xTicks: meanzTicks, yTicks: meanzTicks,
  xFmt: fmtInt, yFmt: fmtInt, xFont: 22, yFont: 22, xPad: 3, yPad: 4, tickLen: 4,
  series: [meanz21cm, meanz21cmKsz], radius: 1.1,
  lineSpan: [6.0, 10.0], dash: [6, 3], lineWidth: 1.5, frameWidth: 1.1,
  legend: { ...smallLegend, dx: 8, w: 118, h: 41, tx: 49, px: 11, pw: 28 },
  texts: [
    { text: 'Compare meanz', x: 899, y: 658, size: 22 },
    { text: 'Predicted meanz', x: 621, y: 763, size: 19.5, rot: true }
  ]
});
makePanel({
  kind: 'err', box: { l: 651, t: 921, r: 1147, b: 986 },
  x: [6.6487, 9.459], y: [-1.5, 1.21], xTicks: meanzTicks, yTicks: meanzErrTicks,
  xFmt: fmtInt, yFmt: fmtInt, xFont: 22, yFont: 22, xPad: 3, yPad: 4, tickLen: 4,
  series: [meanz21cm, meanz21cmKsz], radius: 1.35,
  lineSpan: [6.0, 10.0], dash: [6, 3], lineWidth: 1.5, frameWidth: 1.1,
  texts: [
    { text: '% error', x: 604, y: 954, size: 19, rot: true },
    { text: 'True meanz', x: 899, y: 1038, size: 22 }
  ]
});
</script>
</body>
</html>
